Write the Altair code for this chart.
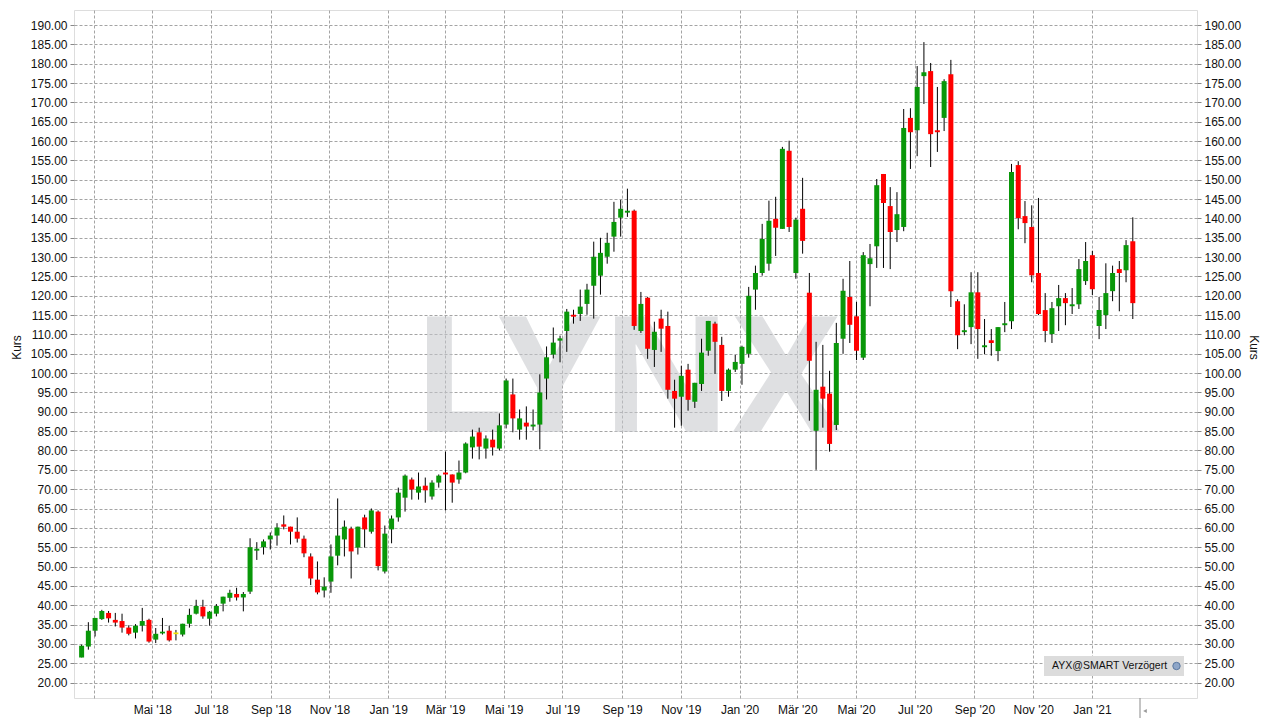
import altair as alt
import pandas as pd
import numpy as np

# ---------------- data (weekly candles, AYX) ----------------
first_week = "2018-02-16 12:00"
n_weeks = 157
week_dates = pd.date_range(first_week, periods=n_weeks, freq="7D")

opens = [26.5, 29.3, 33.4, 36.4, 38.0, 36.2, 35.9, 34.2, 32.9, 34.7,
         36.2, 31.1, 32.7, 33.4, 32.5, 32.4, 35.2, 37.8, 39.6, 36.5,
         37.8, 40.4, 41.9, 42.9, 42.0, 43.5, 54.1, 55.0, 57.0, 58.0,
         60.9, 60.3, 59.0, 57.2, 52.6, 46.6, 43.8, 46.1, 52.8, 57.0,
         59.8, 54.9, 62.7, 59.0, 64.2, 48.7, 59.6, 62.7, 67.8, 72.5,
         69.1, 70.9, 68.1, 71.7, 74.3, 73.8, 72.5, 74.3, 80.8, 84.7,
         80.5, 82.8, 80.5, 86.7, 94.5, 85.4, 87.2, 86.2, 86.7, 98.6,
         104.8, 108.4, 110.9, 115.1, 115.3, 117.9, 122.6, 125.2, 130.1, 135.3,
         140.2, 141.5, 142.0, 110.9, 119.5, 106.0, 114.1, 112.2, 95.4, 93.9,
         100.9, 92.6, 97.2, 105.8, 112.8, 107.3, 95.4, 100.9, 102.4, 105.0,
         121.6, 125.9, 128.3, 139.9, 137.3, 157.5, 125.9, 142.5, 120.8, 85.1,
         96.5, 94.7, 86.6, 108.9, 119.7, 114.7, 104.0, 128.2, 132.8, 151.5,
         143.2, 137.0, 137.8, 166.0, 162.8, 176.8, 178.1, 162.8, 166.0, 177.3,
         118.6, 110.6, 111.9, 120.9, 106.7, 108.5, 105.7, 112.4, 113.4, 153.8,
         140.6, 137.8, 125.9, 116.3, 110.1, 117.3, 119.4, 117.3, 117.8, 123.8,
         130.5, 112.2, 115.0, 121.2, 126.9, 126.6, 134.1]

closes = [29.5, 33.4, 36.7, 38.5, 36.6, 35.5, 34.2, 32.6, 34.7, 35.9,
          30.6, 32.6, 33.1, 30.9, 32.5, 35.2, 37.5, 39.8, 37.1, 38.3,
          39.8, 42.2, 43.2, 42.0, 42.9, 55.0, 54.6, 56.5, 58.0, 60.1,
          60.3, 59.0, 57.2, 53.4, 46.9, 43.3, 44.8, 52.6, 58.0, 60.3,
          53.9, 60.3, 59.6, 64.5, 50.1, 58.5, 62.4, 69.1, 73.5, 69.9,
          70.7, 69.7, 71.7, 73.5, 73.8, 71.7, 74.3, 81.8, 83.6, 81.0,
          83.1, 80.8, 86.5, 98.1, 88.3, 88.3, 86.2, 86.7, 95.0, 104.1,
          107.9, 109.0, 115.9, 114.6, 117.2, 121.6, 130.1, 131.1, 133.7, 139.1,
          142.5, 142.0, 112.2, 117.9, 106.3, 110.7, 111.5, 95.7, 93.4, 99.3,
          93.1, 97.5, 105.3, 113.5, 108.1, 95.4, 100.9, 102.9, 106.8, 120.0,
          125.9, 134.7, 139.4, 137.6, 158.0, 137.8, 139.7, 134.2, 103.2, 95.7,
          93.4, 81.7, 107.8, 121.3, 112.5, 105.8, 130.5, 129.7, 148.6, 144.0,
          136.5, 141.1, 163.4, 162.3, 174.0, 177.8, 161.8, 162.3, 175.5, 121.2,
          109.8, 111.1, 120.9, 111.4, 107.2, 107.8, 111.9, 112.9, 152.0, 140.1,
          138.8, 125.3, 115.3, 110.9, 116.8, 119.4, 118.1, 117.8, 126.9, 129.0,
          121.7, 116.3, 120.7, 125.9, 125.9, 133.1, 118.1]

highs = [29.8, 35.6, 36.7, 38.8, 38.5, 38.0, 37.8, 34.8, 35.1, 39.3,
         36.5, 34.1, 36.7, 34.7, 33.6, 35.2, 39.1, 41.4, 41.4, 38.5,
         40.3, 42.2, 44.0, 44.5, 43.4, 57.3, 56.3, 57.0, 58.8, 61.2,
         63.2, 60.3, 62.7, 58.0, 53.4, 51.3, 47.2, 55.7, 67.6, 61.9,
         60.3, 60.3, 63.4, 65.0, 64.5, 60.6, 63.2, 70.4, 73.8, 73.0,
         74.3, 73.0, 72.3, 73.8, 79.7, 73.8, 77.4, 82.1, 85.4, 85.9,
         83.9, 85.4, 89.6, 98.6, 98.6, 90.6, 91.4, 90.6, 99.7, 106.9,
         111.8, 109.7, 116.6, 116.4, 121.6, 123.1, 134.0, 135.0, 136.3, 144.3,
         144.8, 147.7, 142.3, 121.0, 119.7, 113.3, 116.4, 115.9, 98.3, 101.9,
         102.4, 97.5, 108.9, 113.5, 113.3, 109.4, 101.2, 104.7, 107.1, 122.3,
         127.8, 138.6, 144.6, 145.6, 158.5, 160.1, 140.2, 150.5, 125.9, 108.1,
         107.3, 100.6, 113.0, 124.4, 129.0, 118.4, 131.3, 133.4, 150.2, 151.5,
         148.1, 146.8, 168.3, 168.5, 179.4, 185.6, 180.2, 174.0, 176.0, 181.0,
         119.1, 117.8, 126.1, 126.1, 114.0, 111.4, 111.9, 118.4, 154.1, 154.8,
         144.5, 143.4, 145.3, 120.7, 118.4, 122.8, 120.7, 122.0, 129.5, 133.9,
         131.6, 119.7, 128.4, 127.8, 129.0, 134.4, 140.3]

lows = [26.5, 28.5, 31.9, 36.2, 35.5, 34.5, 32.9, 32.2, 31.4, 33.2,
        30.3, 30.2, 32.4, 30.6, 30.9, 31.9, 34.2, 37.6, 36.5, 34.7,
        37.1, 38.4, 40.9, 41.2, 38.4, 42.9, 51.7, 53.1, 54.4, 55.4,
        59.6, 55.7, 56.2, 52.4, 45.2, 42.8, 42.0, 43.2, 50.3, 52.6,
        46.9, 53.1, 54.9, 58.5, 49.0, 48.2, 56.0, 61.6, 64.2, 67.3,
        67.3, 66.5, 67.3, 70.4, 64.5, 66.5, 71.4, 74.1, 77.9, 77.7,
        77.9, 78.7, 80.0, 85.7, 84.7, 82.8, 82.8, 85.2, 80.3, 93.2,
        103.8, 102.8, 105.5, 112.8, 113.5, 115.1, 114.1, 120.3, 128.3, 131.4,
        135.3, 140.4, 111.2, 110.4, 103.7, 101.6, 105.5, 93.4, 85.9, 86.4,
        90.3, 91.0, 95.4, 104.5, 99.8, 92.8, 93.9, 100.3, 97.0, 104.0,
        116.4, 125.2, 126.5, 130.3, 137.3, 136.5, 124.4, 130.9, 87.7, 75.0,
        85.9, 79.7, 85.3, 105.0, 107.8, 103.4, 103.4, 117.3, 127.2, 127.2,
        126.9, 133.9, 136.7, 152.8, 156.1, 169.6, 153.3, 157.2, 162.6, 117.1,
        106.2, 109.8, 107.5, 103.7, 104.9, 104.5, 103.1, 110.6, 111.4, 137.2,
        133.6, 123.5, 115.0, 108.0, 107.8, 110.9, 112.4, 115.3, 116.6, 122.8,
        120.2, 108.8, 111.4, 118.6, 116.0, 123.5, 114.0]

y_ticks = list(range(20, 191, 5))
month_names_de = ["Jan", "Feb", "Mär", "Apr", "Mai", "Jun",
                  "Jul", "Aug", "Sep", "Okt", "Nov", "Dez"]
x_tick_months = [(2018, m) for m in (3, 5, 7, 9, 11)] + \
                [(2019, m) for m in (1, 3, 5, 7, 9, 11)] + \
                [(2020, m) for m in (1, 3, 5, 7, 9, 11)] + [(2021, 1)]
legend_text = "AYX@SMART Verzögert"
watermark_text = "LYNX"

# ---------------- table ----------------
df = pd.DataFrame({
    "date": week_dates.strftime("%Y-%m-%dT%H:%M:%SZ"),
    "open": opens, "high": highs, "low": lows, "close": closes,
})
df["dir"] = np.where(df["close"] > df["open"], "up",
                     np.where(df["close"] < df["open"], "down", "flat"))
df["body_lo"] = df[["open", "close"]].min(axis=1)
df["body_hi"] = np.maximum(df[["open", "close"]].max(axis=1), df["body_lo"] + 0.45)

FONT = "Liberation Sans"
GRID = "#a4a4a4"

label_expr = ("(utcyear(datum.value) == 2018 && utcmonth(datum.value) == 2) ? '' : "
              "[" + ",".join("'" + m + "'" for m in month_names_de) + "][utcmonth(datum.value)]"
              " + \" '\" + utcFormat(datum.value, '%y')")

x_axis = alt.Axis(
    values=[alt.DateTime(year=y, month=m, date=1, utc=True) for y, m in x_tick_months],
    labelExpr=label_expr, grid=True, gridColor=GRID, gridDash=[3, 2], gridWidth=1,
    ticks=False, domain=False, labelFont=FONT, labelFontSize=12, labelColor="#111",
    labelPadding=6, labelOverlap=False, title=None,
)
x_scale = alt.Scale(type="utc", domain=[
    alt.DateTime(year=2018, month=2, date=13, hours=19, utc=True),
    alt.DateTime(year=2021, month=4, date=15, utc=True)])
y_scale = alt.Scale(domain=[16, 193.9], nice=False, zero=False)

common_y = dict(values=y_ticks, format=".2f", domain=False, ticks=True, tickSize=4,
                tickColor="#888888", labelFont=FONT, labelFontSize=12, labelColor="#111",
                labelPadding=3, title="Kurs", titleFont=FONT, titleFontSize=12,
                titleFontWeight="normal", titleColor="#111", titleAlign="center",
                titleBaseline="middle", titleY=337)
y_left = alt.Axis(orient="left", grid=True, gridColor=GRID, gridDash=[3, 2],
                  titleX=-58, titleAngle=270, **common_y)
y_right = alt.Axis(orient="right", grid=False, titleX=56, titleAngle=90, **common_y)

base = alt.Chart(df)

watermark = alt.Chart(pd.DataFrame({"w": [watermark_text]})).mark_text(
    font="Noto Sans", fontSize=162, fontWeight="bold",
    color="#c6c8cc", opacity=0.55, align="center", baseline="alphabetic",
).encode(text="w:N", x=alt.value(553), y=alt.value(422))

wicks = base.mark_rule(color="black", strokeWidth=1).encode(
    x=alt.X("date:T", scale=x_scale, axis=x_axis),
    y=alt.Y("low:Q", scale=y_scale, axis=y_left),
    y2="high:Q",
)

bodies = base.mark_bar(size=5).encode(
    x=alt.X("date:T", scale=x_scale, axis=x_axis),
    y=alt.Y("body_lo:Q", scale=y_scale, axis=y_right),
    y2="body_hi:Q",
    color=alt.Color("dir:N", scale=alt.Scale(domain=["up", "down", "flat"],
                                             range=["#099709", "#ff0000", "#f2e400"]),
                    legend=None),
)

leg = pd.DataFrame({"t": [legend_text]})
leg_box = alt.Chart(leg).mark_rect(color="#dcdcdc").encode(
    x=alt.value(970), x2=alt.value(1110), y=alt.value(646), y2=alt.value(666))
leg_txt = alt.Chart(leg).mark_text(font=FONT, fontSize=10.5, color="#111", align="left",
                                   baseline="middle").encode(
    text="t:N", x=alt.value(978), y=alt.value(656))
leg_icon = alt.Chart(leg).mark_point(filled=True, size=55, color="#8ea6c8",
                                     stroke="#5a78a0", strokeWidth=1, opacity=1).encode(
    x=alt.value(1102.5), y=alt.value(656))

# small "now" marker under the axis at the right end
now_line = alt.Chart(leg).mark_rule(color="#8a8a8a", strokeWidth=1).encode(
    x=alt.value(1066), y=alt.value(688), y2=alt.value(710))
now_arrow = alt.Chart(leg).mark_point(shape="triangle-left", filled=True, size=18,
                                      color="#9a9a9a", opacity=1).encode(
    x=alt.value(1071), y=alt.value(701))

chart = alt.layer(watermark, wicks, bodies, leg_box, leg_txt, leg_icon,
                  now_line, now_arrow).resolve_scale(
    y="shared").resolve_axis(y="independent").properties(
    width=1123, height=688,
    autosize=alt.AutoSizeParams(type="none"),
    padding={"left": 66, "top": 2, "right": 76, "bottom": 20},
    background="white",
).configure_view(stroke="#8a8a8a", strokeWidth=1).configure(font=FONT)

chart.save("out.html", embed_options={"renderer": "svg", "actions": False})
